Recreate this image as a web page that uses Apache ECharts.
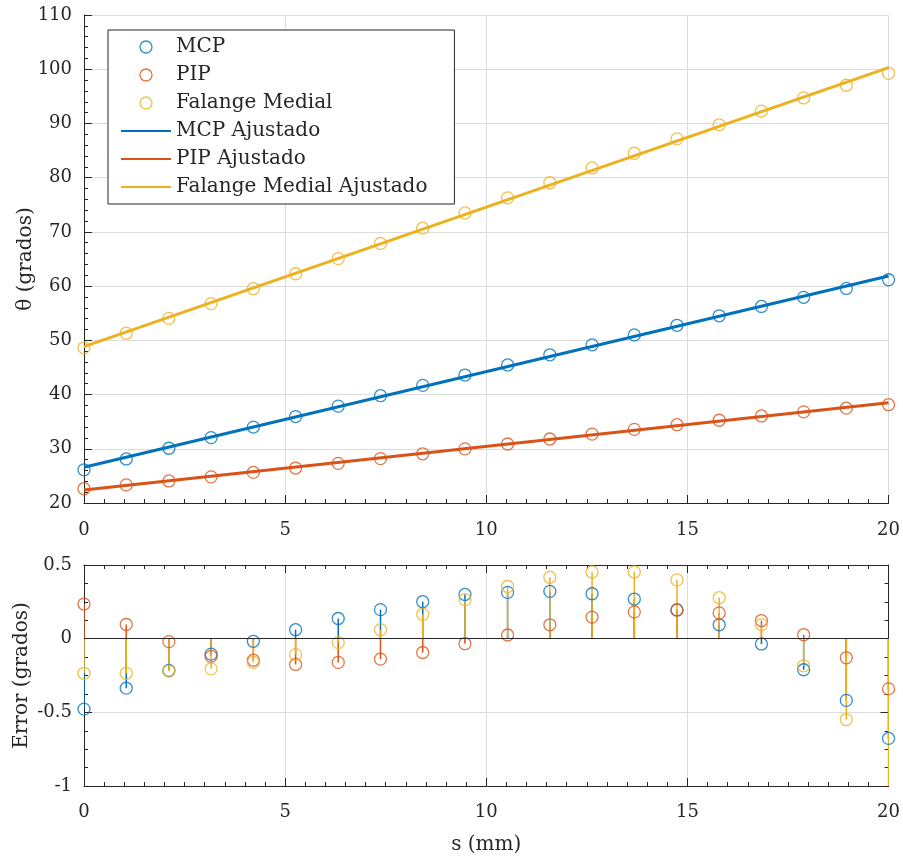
<!DOCTYPE html>
<html>
<head>
<meta charset="utf-8">
<script src="https://cdn.jsdelivr.net/npm/echarts@6/dist/echarts.min.js"></script>
<style>
  html, body { margin: 0; padding: 0; background: #fff; }
  #chart { width: 903px; height: 856px; }
</style>
</head>
<body>
<div id="chart"></div>
<script>
// posiciones s (mm)
const sVals = [0, 1.05, 2.11, 3.16, 4.21, 5.26, 6.32, 7.37, 8.42, 9.47,
  10.53, 11.58, 12.63, 13.68, 14.74, 15.79, 16.84, 17.89, 18.95, 20];

// angulos medidos (grados)
const mcpData = [26.12, 28.12, 30.10, 32.06, 34.00, 35.94, 37.87, 39.79, 41.69, 43.60,
  45.46, 47.33, 49.17, 50.99, 52.77, 54.52, 56.25, 57.93, 59.57, 61.17];
const pipData = [22.64, 23.34, 24.07, 24.82, 25.64, 26.45, 27.31, 28.18, 29.07, 29.98,
  30.88, 31.80, 32.70, 33.58, 34.44, 35.26, 36.05, 36.81, 37.49, 38.13];
const falData = [48.62, 51.32, 54.05, 56.77, 59.52, 62.28, 65.07, 67.87, 70.68, 73.49,
  76.28, 79.06, 81.79, 84.50, 87.16, 89.75, 92.28, 94.70, 97.04, 99.25];

// rectas ajustadas (extremos)
const fitS = [0, 20];
const mcpFit = [26.6, 61.85];
const pipFit = [22.4, 38.47];
const falFit = [48.85, 100.3];

// errores (grados)
const mcpErr = [-0.478, -0.336, -0.215, -0.105, -0.018, 0.061, 0.137, 0.197, 0.251, 0.300,
  0.314, 0.321, 0.305, 0.269, 0.195, 0.094, -0.036, -0.211, -0.419, -0.677];
const pipErr = [0.235, 0.096, -0.02, -0.12, -0.146, -0.175, -0.161, -0.139, -0.094, -0.034,
  0.025, 0.094, 0.146, 0.182, 0.195, 0.175, 0.123, 0.027, -0.130, -0.341];
const falErr = [-0.235, -0.235, -0.22, -0.205, -0.161, -0.108, -0.027, 0.061, 0.166, 0.265,
  0.354, 0.417, 0.453, 0.453, 0.399, 0.278, 0.095, -0.184, -0.549, -1.05];

const C_MCP = "#0072BD";
const C_PIP = "#D95319";
const C_FAL = "#EDB120";
const axisColor = "#262626";
const gridColor = "#dcdcdc";
const font = "DejaVu Serif";
const fontSize = 18;
const nameSize = 20;

function pairs(xs, ys) {
  return xs.map((x, i) => [x, ys[i]]);
}

function scatter(name, data, color, xIdx, yIdx) {
  return {
    name: name,
    type: "scatter",
    xAxisIndex: xIdx,
    yAxisIndex: yIdx,
    data: data,
    symbol: "circle",
    symbolSize: 12,
    clip: true,
    itemStyle: { color: "rgba(0,0,0,0)", borderColor: color, borderWidth: 1.3 },
    emphasis: { disabled: true },
    silent: true,
  };
}

function fitLine(name, data, color) {
  return {
    name: name,
    type: "line",
    xAxisIndex: 0,
    yAxisIndex: 0,
    data: data,
    symbol: "none",
    lineStyle: { color: color, width: 3 },
    itemStyle: { color: color },
    silent: true,
    z: 3,
  };
}

function stems(name, data, color) {
  return {
    name: name,
    type: "custom",
    xAxisIndex: 1,
    yAxisIndex: 1,
    clip: true,
    silent: true,
    data: data,
    encode: { x: 0, y: 1 },
    renderItem: function (params, api) {
      const p0 = api.coord([api.value(0), 0]);
      const p1 = api.coord([api.value(0), api.value(1)]);
      return {
        type: "line",
        shape: { x1: p0[0], y1: p0[1], x2: p1[0], y2: p1[1] },
        style: { stroke: color, lineWidth: 1.5 },
      };
    },
  };
}

const labelStyle = { color: axisColor, fontFamily: font, fontSize: fontSize };
const nameStyle = { color: axisColor, fontFamily: font, fontSize: nameSize };
const hiddenDot = { color: "rgba(0,0,0,0)", borderWidth: 0, opacity: 0 };

function xAxisCfg(gridIndex, margin, name, nameGap) {
  return {
    type: "value",
    gridIndex: gridIndex,
    min: 0,
    max: 20,
    interval: 5,
    name: name,
    nameLocation: "middle",
    nameGap: nameGap,
    nameMoveOverlap: false,
    nameTextStyle: nameStyle,
    axisLine: { onZero: false, lineStyle: { color: axisColor, width: 1 } },
    axisTick: { inside: true, length: 8, lineStyle: { color: axisColor } },
    minorTick: { show: true, splitNumber: 10, length: 4, lineStyle: { color: axisColor } },
    axisLabel: Object.assign({ margin: margin }, labelStyle),
    splitLine: { show: true, lineStyle: { color: gridColor, width: 1 } },
  };
}

const grids = [
  { left: 84, top: 15, width: 806, height: 488 },
  { left: 84, top: 565, width: 806, height: 224 },
];

const option = {
  backgroundColor: "#fff",
  animation: false,
  grid: grids,
  legend: {
    left: 108,
    top: 30,
    orient: "vertical",
    itemWidth: 50,
    itemHeight: 12,
    itemGap: 8,
    padding: [7, 27, 7, 12],
    borderColor: axisColor,
    borderWidth: 1,
    backgroundColor: "#fff",
    textStyle: { color: axisColor, fontFamily: font, fontSize: nameSize, lineHeight: 20 },
    selectedMode: false,
    data: [
      { name: "MCP", icon: "circle", itemStyle: { color: "rgba(0,0,0,0)", borderColor: C_MCP, borderWidth: 1.3 } },
      { name: "PIP", icon: "circle", itemStyle: { color: "rgba(0,0,0,0)", borderColor: C_PIP, borderWidth: 1.3 } },
      { name: "Falange Medial", icon: "circle", itemStyle: { color: "rgba(0,0,0,0)", borderColor: C_FAL, borderWidth: 1.3 } },
      { name: "MCP Ajustado", itemStyle: hiddenDot },
      { name: "PIP Ajustado", itemStyle: hiddenDot },
      { name: "Falange Medial Ajustado", itemStyle: hiddenDot },
    ],
  },
  xAxis: [
    xAxisCfg(0, 18, "", 0),
    xAxisCfg(1, 17, "s (mm)", 49),
    {
      type: "value", gridIndex: 1, position: "top", min: 0, max: 20, interval: 5,
      axisLine: { onZero: false, lineStyle: { color: axisColor } },
      axisTick: { inside: true, length: 8, lineStyle: { color: axisColor } },
      minorTick: { show: true, splitNumber: 10, length: 4, lineStyle: { color: axisColor } },
      axisLabel: { show: false },
      splitLine: { show: false },
    },
  ],
  yAxis: [
    {
      type: "value",
      gridIndex: 0,
      min: 20,
      max: 110,
      interval: 10,
      name: "θ (grados)",
      nameLocation: "middle",
      nameGap: 48,
      nameMoveOverlap: false,
      nameTextStyle: nameStyle,
      axisLine: { show: true, onZero: false, lineStyle: { color: axisColor } },
      axisTick: { show: true, inside: true, length: 8, lineStyle: { color: axisColor } },
      minorTick: { show: true, splitNumber: 5, length: 4, lineStyle: { color: axisColor } },
      axisLabel: Object.assign({ margin: 12 }, labelStyle),
      splitLine: { show: true, lineStyle: { color: gridColor } },
    },
    {
      type: "value",
      gridIndex: 1,
      min: -1,
      max: 0.5,
      interval: 0.5,
      name: "Error (grados)",
      nameLocation: "middle",
      nameGap: 52,
      nameMoveOverlap: false,
      nameTextStyle: nameStyle,
      axisLine: { show: true, onZero: false, lineStyle: { color: axisColor } },
      axisTick: { show: true, inside: true, length: 8, lineStyle: { color: axisColor } },
      minorTick: { show: true, splitNumber: 4, length: 4, lineStyle: { color: axisColor } },
      axisLabel: Object.assign({ margin: 12 }, labelStyle),
      splitLine: { show: true, lineStyle: { color: gridColor } },
    },
    {
      type: "value",
      gridIndex: 1,
      position: "right",
      min: -1,
      max: 0.5,
      interval: 0.5,
      axisLine: { show: true, onZero: false, lineStyle: { color: axisColor } },
      axisTick: { show: true, inside: true, length: 8, lineStyle: { color: axisColor } },
      minorTick: { show: true, splitNumber: 4, length: 4, lineStyle: { color: axisColor } },
      axisLabel: { show: false },
      splitLine: { show: false },
    },
  ],
  series: [
    scatter("MCP", pairs(sVals, mcpData), C_MCP, 0, 0),
    scatter("PIP", pairs(sVals, pipData), C_PIP, 0, 0),
    scatter("Falange Medial", pairs(sVals, falData), C_FAL, 0, 0),
    fitLine("MCP Ajustado", pairs(fitS, mcpFit), C_MCP),
    fitLine("PIP Ajustado", pairs(fitS, pipFit), C_PIP),
    fitLine("Falange Medial Ajustado", pairs(fitS, falFit), C_FAL),

    Object.assign(stems("eMCP", pairs(sVals, mcpErr), C_MCP), {
      markLine: {
        silent: true,
        symbol: "none",
        label: { show: false },
        lineStyle: { color: axisColor, width: 1, type: "solid" },
        data: [{ yAxis: 0 }],
      },
    }),
    scatter("eMCP", pairs(sVals, mcpErr), C_MCP, 1, 1),
    stems("ePIP", pairs(sVals, pipErr), C_PIP),
    scatter("ePIP", pairs(sVals, pipErr), C_PIP, 1, 1),
    stems("eFal", pairs(sVals, falErr), C_FAL),
    scatter("eFal", pairs(sVals, falErr), C_FAL, 1, 1),
  ],
};

const chart = echarts.init(document.getElementById("chart"));
chart.setOption(option);
</script>
</body>
</html>
